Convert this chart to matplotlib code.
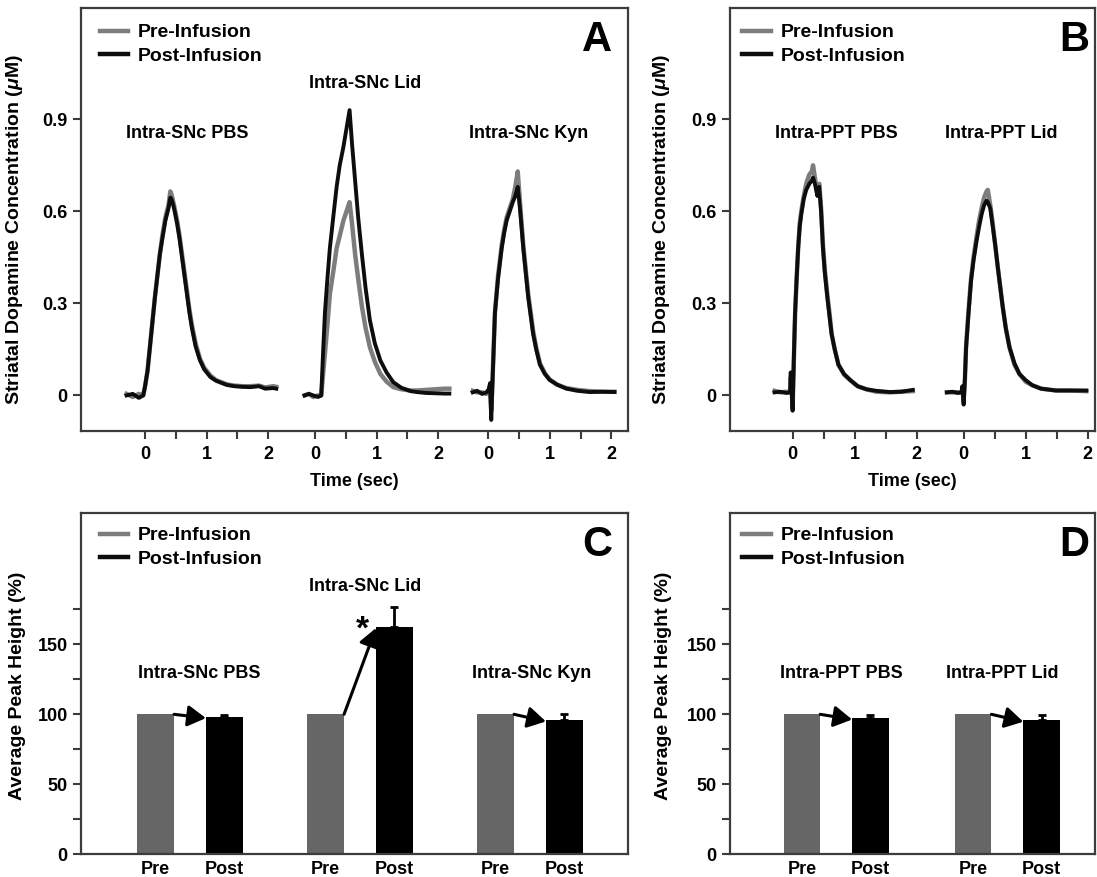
import matplotlib
matplotlib.use('Agg')
import matplotlib.pyplot as plt
from matplotlib.lines import Line2D
from matplotlib.ticker import FixedLocator

plt.rcParams['font.family'] = ['Liberation Sans', 'DejaVu Sans']
plt.rcParams['font.weight'] = 'bold'
plt.rcParams['axes.labelweight'] = 'bold'
plt.rcParams['mathtext.fontset'] = 'custom'
plt.rcParams['mathtext.it'] = 'Liberation Sans:italic'
plt.rcParams['mathtext.rm'] = 'Liberation Sans:bold'

# ---------------- data: panel A (Intra-SNc), time in s, concentration in uM
a_titles = ['Intra-SNc PBS', 'Intra-SNc Lid', 'Intra-SNc Kyn']

a1_t = [-0.30, -0.20, -0.10, -0.03, 0.00, 0.04, 0.08, 0.12, 0.16, 0.20, 0.24, 0.28, 0.33, 0.38, 0.41, 0.43,
        0.47, 0.52, 0.56, 0.60, 0.64, 0.68, 0.72, 0.76, 0.82, 0.89, 0.96, 1.06, 1.15, 1.25, 1.33, 1.45,
        1.58, 1.71, 1.85, 1.95, 2.08, 2.13]
a1_pre = [0.005, -0.005, 0.005, 0.0, 0.03, 0.08, 0.16, 0.24, 0.32, 0.39, 0.46, 0.52, 0.58, 0.62, 0.665, 0.655,
          0.62, 0.57, 0.52, 0.46, 0.40, 0.34, 0.28, 0.23, 0.17, 0.12, 0.09, 0.065, 0.05, 0.042, 0.036, 0.032,
          0.03, 0.03, 0.032, 0.026, 0.03, 0.028]
a1_post = [0.0, 0.005, -0.008, 0.0, 0.03, 0.08, 0.16, 0.24, 0.32, 0.39, 0.46, 0.51, 0.57, 0.61, 0.645, 0.64,
           0.61, 0.56, 0.51, 0.45, 0.39, 0.33, 0.27, 0.22, 0.16, 0.115, 0.085, 0.06, 0.048, 0.04, 0.034, 0.03,
           0.028, 0.027, 0.03, 0.022, 0.024, 0.022]

a2_t = [-0.17, -0.10, -0.03, 0.05, 0.10, 0.13, 0.16, 0.20, 0.24, 0.30, 0.35, 0.40, 0.46, 0.51, 0.56, 0.60,
        0.65, 0.70, 0.76, 0.82, 0.89, 0.97, 1.06, 1.16, 1.27, 1.40, 1.55, 1.65, 1.80, 1.95, 2.10, 2.18]
a2_pre = [0.0, 0.005, -0.005, 0.0, 0.0, 0.07, 0.136, 0.23, 0.33, 0.41, 0.48, 0.52, 0.57, 0.60, 0.63, 0.56,
          0.46, 0.38, 0.29, 0.22, 0.157, 0.11, 0.07, 0.045, 0.027, 0.02, 0.016, 0.016, 0.018, 0.02, 0.022, 0.022]
a2_post = [0.0, 0.005, 0.0, -0.005, 0.0, 0.14, 0.27, 0.38, 0.48, 0.59, 0.68, 0.75, 0.81, 0.87, 0.93, 0.82,
           0.70, 0.58, 0.46, 0.35, 0.245, 0.17, 0.114, 0.075, 0.043, 0.025, 0.014, 0.011, 0.008, 0.007, 0.006, 0.006]

a3_t = [-0.25, -0.18, -0.10, -0.03, 0.01, 0.03, 0.05, 0.07, 0.11, 0.16, 0.22, 0.26, 0.30, 0.35, 0.40, 0.44,
        0.48, 0.52, 0.57, 0.61, 0.65, 0.69, 0.73, 0.78, 0.84, 0.92, 1.00, 1.12, 1.27, 1.45, 1.65, 1.85, 2.05]
a3_pre = [0.015, 0.01, 0.01, 0.005, 0.015, 0.03, -0.05, 0.05, 0.27, 0.39, 0.49, 0.54, 0.58, 0.61, 0.64, 0.68,
          0.73, 0.62, 0.49, 0.41, 0.33, 0.27, 0.21, 0.155, 0.105, 0.072, 0.052, 0.035, 0.024, 0.018, 0.014, 0.012, 0.012]
a3_post = [0.01, 0.015, 0.005, 0.01, 0.02, 0.04, -0.08, 0.04, 0.27, 0.38, 0.48, 0.53, 0.57, 0.60, 0.63, 0.65,
           0.68, 0.60, 0.48, 0.40, 0.32, 0.26, 0.20, 0.15, 0.10, 0.07, 0.05, 0.035, 0.022, 0.015, 0.011, 0.012, 0.011]

# ---------------- data: panel B (Intra-PPT)
b_titles = ['Intra-PPT PBS', 'Intra-PPT Lid']

b1_t = [-0.29, -0.20, -0.10, -0.04, -0.03, -0.01, 0.00, 0.02, 0.04, 0.065, 0.09, 0.115, 0.14, 0.18, 0.22,
        0.27, 0.31, 0.33, 0.36, 0.40, 0.43, 0.46, 0.49, 0.52, 0.56, 0.60, 0.63, 0.68, 0.74, 0.83, 0.93,
        1.05, 1.19, 1.35, 1.57, 1.75, 1.94]
b1_pre = [0.015, 0.01, 0.012, 0.01, 0.06, 0.0, -0.04, 0.11, 0.26, 0.38, 0.48, 0.56, 0.60, 0.65, 0.69,
          0.72, 0.73, 0.75, 0.71, 0.66, 0.69, 0.61, 0.49, 0.41, 0.33, 0.26, 0.20, 0.15, 0.10, 0.068, 0.05,
          0.03, 0.02, 0.012, 0.01, 0.012, 0.014]
b1_post = [0.01, 0.012, 0.008, 0.01, 0.075, 0.0, -0.05, 0.12, 0.27, 0.38, 0.48, 0.55, 0.59, 0.64, 0.67,
           0.69, 0.70, 0.71, 0.69, 0.65, 0.68, 0.60, 0.48, 0.40, 0.32, 0.25, 0.20, 0.15, 0.10, 0.07, 0.05,
           0.03, 0.02, 0.015, 0.011, 0.012, 0.018]

b2_t = [-0.27, -0.18, -0.09, -0.03, -0.02, 0.00, 0.02, 0.04, 0.08, 0.12, 0.16, 0.21, 0.25, 0.29, 0.33,
        0.37, 0.39, 0.43, 0.47, 0.51, 0.55, 0.59, 0.63, 0.68, 0.74, 0.82, 0.90, 1.00, 1.11, 1.25, 1.49,
        1.70, 1.98]
b2_pre = [0.01, 0.01, 0.01, 0.012, 0.025, -0.02, 0.05, 0.16, 0.28, 0.38, 0.45, 0.52, 0.57, 0.61, 0.645,
          0.665, 0.67, 0.62, 0.56, 0.49, 0.42, 0.355, 0.29, 0.22, 0.157, 0.10, 0.07, 0.045, 0.033, 0.022,
          0.016, 0.016, 0.014]
b2_post = [0.01, 0.012, 0.008, 0.01, 0.03, -0.03, 0.05, 0.157, 0.27, 0.375, 0.44, 0.505, 0.55, 0.59, 0.62,
           0.635, 0.63, 0.61, 0.55, 0.49, 0.42, 0.355, 0.29, 0.22, 0.157, 0.105, 0.07, 0.05, 0.033, 0.022,
           0.016, 0.016, 0.016]

# ---------------- data: panels C and D (average peak height, %)
c_groups = ['Intra-SNc PBS', 'Intra-SNc Lid', 'Intra-SNc Kyn']
c_pre = [100, 100, 100]
c_post = [98.3, 162.6, 95.9]
c_post_err = [1.2, 13.8, 4.3]

d_groups = ['Intra-PPT PBS', 'Intra-PPT Lid']
d_pre = [100, 100]
d_post = [97.3, 95.7]
d_post_err = [2.5, 3.8]

bar_labels = ['Pre', 'Post']
legend_labels = ['Pre-Infusion', 'Post-Infusion']

# ---------------- style
PRE_LINE = '#7d7d7d'
POST_LINE = '#0d0d0d'
PRE_BAR = '#666666'
POST_BAR = '#000000'
FRAME = '#3c3c3c'
W, H = 1097, 877

fig = plt.figure(figsize=(W / 100, H / 100), dpi=100)


def px_axes(left, top, right, bottom):
    return fig.add_axes([left / W, 1 - bottom / H, (right - left) / W, (bottom - top) / H])


def style_axes(ax):
    for s in ax.spines.values():
        s.set_linewidth(1.6)
        s.set_color(FRAME)
    ax.tick_params(axis='both', which='both', direction='out', width=1.5, color=FRAME,
                   labelsize=13, pad=4, length=5.5)
    ax.tick_params(axis='x', pad=5.5)


def add_legend(ax, top_px):
    h_px = ax.get_position().height * H
    handles = [Line2D([], [], color=PRE_LINE, lw=3.2), Line2D([], [], color=POST_LINE, lw=3.2)]
    ax.legend(handles, legend_labels, loc='upper left', bbox_to_anchor=(0.034, 1 - top_px / h_px),
              frameon=False, handlelength=1.45, handletextpad=0.5,
              labelspacing=0.32, borderpad=0, borderaxespad=0,
              prop={'weight': 'bold', 'size': 14})


def trace_panel(ax, segments, offsets, titles, title_pos, letter, xlim):
    style_axes(ax)
    for (t, pre, post), off in zip(segments, offsets):
        ax.plot([v + off for v in t], pre, color=PRE_LINE, lw=3.2, solid_joinstyle='round')
        ax.plot([v + off for v in t], post, color=POST_LINE, lw=2.8, solid_joinstyle='round')
    for title, (tx, ty) in zip(titles, title_pos):
        ax.text(tx, ty, title, ha='center', va='center', fontsize=13, fontweight='bold')
    ax.set_xlim(*xlim)
    ax.set_ylim(-0.116, 1.262)
    ax.set_yticks([0, 0.3, 0.6, 0.9])
    ax.set_yticklabels(['0', '0.3', '0.6', '0.9'])
    major = [off + k for off in offsets for k in (0, 1, 2)]
    minor = [off + k for off in offsets for k in (0.5, 1.5)]
    ax.set_xticks(major)
    ax.set_xticklabels(['0', '1', '2'] * len(offsets))
    ax.xaxis.set_minor_locator(FixedLocator(minor))
    ax.set_xlabel('Time (sec)', fontsize=13, fontweight='bold', labelpad=7)
    ax.set_ylabel(r'Striatal Dopamine Concentration ($\mu$M)', fontsize=14, fontweight='bold')
    ax.text(0.943, 0.925, letter, transform=ax.transAxes, ha='center', va='center',
            fontsize=30, fontweight='bold')
    add_legend(ax, 15.5)


def bar_panel(ax, groups, pre, post, err, group_offsets, label_pos, letter, xlim):
    style_axes(ax)
    width = 0.535
    pre_x = [g for g in group_offsets]
    post_x = [g + 1 for g in group_offsets]
    ax.bar(pre_x, pre, width=width, color=PRE_BAR, edgecolor='none', zorder=2)
    ax.bar(post_x, post, width=width, color=POST_BAR, edgecolor='none', zorder=2)
    ax.errorbar(post_x, post, yerr=[[0] * len(err), err], fmt='none', ecolor='black',
                elinewidth=2, capsize=3.2, capthick=2, zorder=3)
    for px_, pv, qx, qv in zip(pre_x, pre, post_x, post):
        ax.annotate('', xy=(qx - width / 2, qv - 1.0), xytext=(px_ + width / 2, pv),
                    arrowprops=dict(arrowstyle='-|>,head_length=0.55,head_width=0.32',
                                    mutation_scale=20, lw=2.2, color='black',
                                    shrinkA=0, shrinkB=0), zorder=4)
    for name, (tx, ty) in zip(groups, label_pos):
        ax.text(tx, ty, name, ha='center', va='center', fontsize=13, fontweight='bold')
    ax.set_xlim(*xlim)
    ax.set_ylim(0, 243.6)
    ax.set_yticks([0, 50, 100, 150])
    ax.yaxis.set_minor_locator(FixedLocator([25, 75, 125, 175]))
    ticks = []
    labels = []
    for a, b in zip(pre_x, post_x):
        ticks += [a, b]
        labels += bar_labels
    ax.set_xticks(ticks)
    ax.set_xticklabels(labels)
    ax.tick_params(axis='x', length=0, pad=5, labelsize=13)
    ax.set_ylabel('Average Peak Height (%)', fontsize=14, fontweight='bold')
    ax.text(0.943, 0.907, letter, transform=ax.transAxes, ha='center', va='center',
            fontsize=30, fontweight='bold')
    add_legend(ax, 13.5)
    return pre_x, post_x


# Panel A
axA = px_axes(81, 8.3, 628, 431)
trace_panel(axA, [(a1_t, a1_pre, a1_post), (a2_t, a2_pre, a2_post), (a3_t, a3_pre, a3_post)],
            [0, 2.76, 5.57], a_titles, [(0.68, 0.854), (3.57, 1.017), (6.22, 0.854)], 'A',
            (-1.04, 7.84))
axA.yaxis.set_label_coords(-0.102, 0.476)

# Panel B
axB = px_axes(730, 8.3, 1095, 431)
trace_panel(axB, [(b1_t, b1_pre, b1_post), (b2_t, b2_pre, b2_post)],
            [0, 2.76], b_titles, [(0.70, 0.854), (3.36, 0.854)], 'B', (-1.01, 4.88))
axB.yaxis.set_label_coords(-0.159, 0.476)

# Panel C
axC = px_axes(81, 513.3, 628, 854.3)
bar_panel(axC, c_groups, c_pre, c_post, c_post_err, [0, 2.48, 4.96],
          [(0.63, 129.5), (3.06, 191), (5.48, 129.5)], 'C', (-1.09, 6.89))
axC.text(3.01, 160, '*', ha='center', va='center', fontsize=24, fontweight='bold')
axC.yaxis.set_label_coords(-0.1, 0.494)

# Panel D
axD = px_axes(730, 513.3, 1095, 854.3)
bar_panel(axD, d_groups, d_pre, d_post, d_post_err, [0, 2.5],
          [(0.58, 129.5), (2.93, 129.5)], 'D', (-1.05, 4.28))
axD.yaxis.set_label_coords(-0.16, 0.494)

fig.savefig('out.png', dpi=100)
